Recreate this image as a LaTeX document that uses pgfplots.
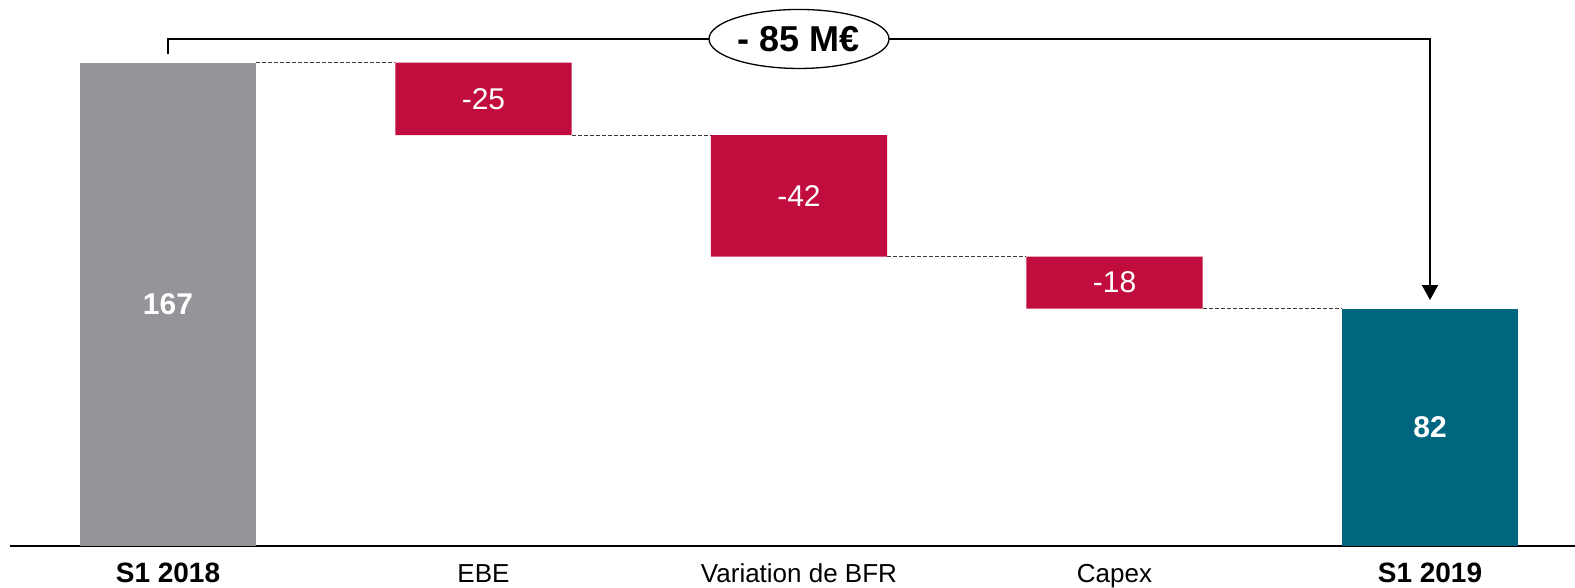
\documentclass[border=0pt]{standalone}
\usepackage{fontspec}
\setmainfont{Liberation Sans}
\usepackage{pgfplots}
\pgfplotsset{compat=1.18}
\usetikzlibrary{arrows.meta,shapes.geometric}
\definecolor{cgray}{RGB}{148,149,153}
\definecolor{cred}{RGB}{193,13,61}
\definecolor{cteal}{RGB}{0,102,127}
\definecolor{cdash}{RGB}{60,60,60}
\begin{document}
\begin{tikzpicture}[x=0.5pt,y=0.5pt]
\path[use as bounding box] (0,0) rectangle (1575,588);
\begin{axis}[
  at={(5pt,21pt)}, anchor=south west,
  scale only axis, width=782.5pt, height=273pt,
  xmin=-0.50079, xmax=4.4596, ymin=0, ymax=188.67,
  axis x line*=bottom, axis y line=none,
  x axis line style={line width=1pt, black},
  xtick={0,1,2,3,4},
  xticklabels={{\fontsize{14}{16}\selectfont\bfseries S1 2018},EBE,Variation de BFR,Capex,{\fontsize{14}{16}\selectfont\bfseries S1 2019}},
  xticklabel style={anchor=base, yshift=-18.5pt, font=\fontsize{13}{15}\selectfont},
  major tick length=0pt,
  ytick=\empty,
  ybar stacked, bar width=0.558,
  clip=false,
]
\addplot[draw=none, fill=none] coordinates {(0,0) (1,142) (2,100) (3,82) (4,0)};
\addplot[draw=none, fill=cgray] coordinates {(0,167) (1,0) (2,0) (3,0) (4,0)};
\addplot[draw=none, fill=cred] coordinates {(0,0) (1,25) (2,42) (3,18) (4,0)};
\addplot[draw=none, fill=cteal] coordinates {(0,0) (1,0) (2,0) (3,0) (4,82)};
\end{axis}
\begin{axis}[
  at={(5pt,21pt)}, anchor=south west,
  scale only axis, width=782.5pt, height=273pt,
  xmin=-0.50079, xmax=4.4596, ymin=0, ymax=188.67,
  hide axis, clip=false,
]
\addplot[cdash, line width=0.5pt, dash pattern=on 2pt off 1pt] coordinates {(0.279,167) (0.721,167)};
\addplot[cdash, line width=0.5pt, dash pattern=on 2pt off 1pt] coordinates {(1.279,142) (1.721,142)};
\addplot[cdash, line width=0.5pt, dash pattern=on 2pt off 1pt] coordinates {(2.279,100) (2.721,100)};
\addplot[cdash, line width=0.5pt, dash pattern=on 2pt off 1pt] coordinates {(3.279,82) (3.721,82)};
\addplot[black, line width=1pt, -{Triangle[length=7.5pt,width=8pt]}] coordinates {(0,170.0) (0,175.2) (4,175.2) (4,85.0)};
\node[draw, ellipse, fill=white, line width=0.65pt, minimum width=90pt, minimum height=29.5pt, inner sep=0pt,
  font=\fontsize{18}{20}\selectfont\bfseries] at (axis cs:2,175.2) {- 85 M€};
\node[white, font=\fontsize{15}{17}\selectfont\bfseries] at (axis cs:0,83.5) {167};
\node[white, font=\fontsize{15}{17}\selectfont] at (axis cs:1,154.5) {-25};
\node[white, font=\fontsize{15}{17}\selectfont] at (axis cs:2,121) {-42};
\node[white, font=\fontsize{15}{17}\selectfont] at (axis cs:3,91) {-18};
\node[white, font=\fontsize{15}{17}\selectfont\bfseries] at (axis cs:4,41) {82};
\end{axis}
\end{tikzpicture}
\end{document}
